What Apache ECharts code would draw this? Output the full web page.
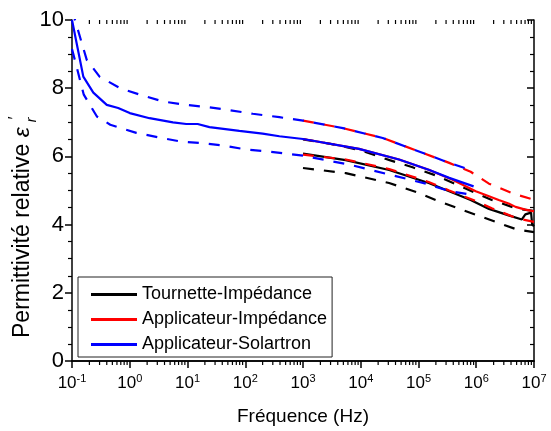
<!DOCTYPE html>
<html>
<head>
<meta charset="utf-8">
<script src="https://cdn.jsdelivr.net/npm/echarts@6/dist/echarts.min.js"></script>
<style>html,body{margin:0;padding:0;background:#fff}#c{width:551px;height:431px}</style>
</head>
<body>
<div id="c"></div>
<script>
// ---- Applicateur-Solartron (blue) ----
const solFreqMean = [0.1, 0.157, 0.234, 0.4, 0.63, 1, 2.2, 5.6, 9.5, 15, 24, 79, 200, 390, 1000, 9300, 46000, 150000, 340000, 900000];
const solMean     = [10.0, 8.34, 7.87, 7.51, 7.42, 7.27, 7.12, 7.0, 6.95, 6.95, 6.86, 6.75, 6.67, 6.59, 6.51, 6.22, 5.91, 5.61, 5.37, 5.12];
const solFreqUp   = [0.1, 0.18, 0.3, 0.68, 1.5, 3.8, 9.5, 21, 47, 135, 390, 1000, 4900, 24000, 120000, 340000, 800000];
const solUp       = [10.3, 8.83, 8.34, 8.0, 7.81, 7.61, 7.51, 7.45, 7.37, 7.25, 7.15, 7.05, 6.83, 6.54, 6.1, 5.81, 5.6];
const solFreqLow  = [0.1, 0.16, 0.27, 0.46, 1.3, 3.1, 7.4, 17, 41, 105, 230, 590, 1000, 6300, 31000, 150000, 340000, 800000];
const solLow      = [9.15, 7.81, 7.17, 6.93, 6.69, 6.56, 6.44, 6.39, 6.32, 6.2, 6.15, 6.07, 6.02, 5.76, 5.47, 5.18, 4.98, 4.88];

// ---- Applicateur-Impédance (red) ----
const appFreqMean = [1000, 9300, 46000, 150000, 380000, 980000, 1660000, 2450000, 3630000, 4790000, 7080000, 10000000];
const appMean     = [6.51, 6.22, 5.91, 5.61, 5.32, 4.98, 4.83, 4.72, 4.62, 4.52, 4.44, 4.39];
const appFreqUp   = [1000, 4900, 24000, 120000, 340000, 800000, 1660000, 2500000, 4500000, 10000000];
const appUp       = [7.05, 6.83, 6.54, 6.1, 5.81, 5.55, 5.2, 5.08, 4.9, 4.73];
const appFreqLow  = [1000, 5500, 31000, 150000, 340000, 890000, 1860000, 5000000, 10000000];
const appLow      = [6.05, 5.91, 5.63, 5.25, 5.0, 4.72, 4.48, 4.19, 4.08];

// ---- Tournette-Impédance (black) ----
const tourFreqMean = [1000, 5500, 31000, 150000, 340000, 800000, 1660000, 3630000, 6170000, 7080000, 8900000, 9300000, 10000000];
const tourMean     = [6.08, 5.89, 5.6, 5.22, 4.98, 4.72, 4.46, 4.27, 4.15, 4.3, 4.35, 4.0, 3.95];
const tourFreqUp   = [1000, 3160, 10000, 31600, 79000, 200000, 450000, 1000000, 1860000, 5000000, 10000000];
const tourUp       = [6.5, 6.36, 6.18, 5.89, 5.68, 5.44, 5.18, 4.92, 4.72, 4.47, 4.4];
const tourFreqLow  = [1000, 5500, 31000, 100000, 200000, 500000, 2240000, 5000000, 10000000];
const tourLow      = [5.66, 5.51, 5.22, 4.93, 4.72, 4.47, 4.07, 3.86, 3.78];

const legendNames = ['Tournette-Impédance', 'Applicateur-Impédance', 'Applicateur-Solartron'];
const yTicks = [0, 2, 4, 6, 8, 10];
const xDecades = [-1, 0, 1, 2, 3, 4, 5, 6, 7];
const minorMultipliers = [2, 3, 4, 5, 6, 7, 8, 9];

function pairs(f, v) { return f.map((x, i) => [x, v[i]]); }

// minor tick positions of the log axis (2..9 x 10^k)
const xMinorTicks = [];
for (let i = 0; i < xDecades.length - 1; i++) {
  for (const m of minorMultipliers) xMinorTicks.push([m * Math.pow(10, xDecades[i]), 0]);
}

const FONT = 'Liberation Sans, Arial, sans-serif';
const DASH = [11, 10];
const LW = 2.2;

function mk(name, f, v, color, dashed) {
  return {
    name: name, type: 'line', data: pairs(f, v), symbol: 'none', clip: true,
    lineStyle: { color: color, width: LW, type: dashed ? DASH : 'solid' },
    itemStyle: { color: color }, emphasis: { disabled: true }, silent: true,
    animation: false
  };
}

const chart = echarts.init(document.getElementById('c'), null, { renderer: 'canvas' });

const xLabelRich = {
  b: { fontSize: 17, fontFamily: FONT, color: '#000' },
  s: { fontSize: 11, fontFamily: FONT, color: '#000', verticalAlign: 'top', padding: [0, 0, 9, 0] }
};

chart.setOption({
  animation: false,
  grid: { left: 72, right: 17, top: 20, bottom: 69, containLabel: false },
  xAxis: [
    {
      type: 'log', logBase: 10, min: Math.pow(10, xDecades[0]), max: Math.pow(10, xDecades[xDecades.length - 1]),
      splitNumber: 8, position: 'bottom',
      axisLine: { lineStyle: { color: '#000', width: 1.5 } },
      axisTick: { inside: false, length: 7, lineStyle: { color: '#000', width: 1.5 } },
      minorTick: { show: false },
      splitLine: { show: false },
      axisLabel: {
        margin: 12, color: '#000',
        formatter: function (v) { const e = Math.round(Math.log10(v)); return '{b|10}{s|' + e + '}'; },
        rich: xLabelRich
      },
      name: 'Fréquence (Hz)', nameLocation: 'middle', nameGap: 46,
      nameTextStyle: { fontSize: 19, fontFamily: FONT, color: '#000' }
    },
    {
      type: 'log', logBase: 10, min: Math.pow(10, xDecades[0]), max: Math.pow(10, xDecades[xDecades.length - 1]),
      splitNumber: 8, position: 'top',
      axisLine: { show: true, lineStyle: { color: '#000', width: 1.5 } },
      axisTick: { inside: true, length: 7, lineStyle: { color: '#000', width: 1.5 } },
      minorTick: { show: false },
      splitLine: { show: false }, axisLabel: { show: false }
    }
  ],
  yAxis: [
    {
      type: 'value', min: yTicks[0], max: yTicks[yTicks.length - 1], interval: 2, position: 'left',
      axisLine: { show: true, lineStyle: { color: '#000', width: 1.5 } },
      axisTick: { show: true, inside: false, length: 7, lineStyle: { color: '#000', width: 1.5 } },
      minorTick: { show: true, splitNumber: 4, length: 4, lineStyle: { color: '#000', width: 1.2 } },
      splitLine: { show: false },
      axisLabel: { margin: 8, color: '#000', fontSize: 22, fontFamily: FONT }
    },
    {
      type: 'value', min: yTicks[0], max: yTicks[yTicks.length - 1], interval: 2, position: 'right',
      axisLine: { show: true, lineStyle: { color: '#000', width: 1.5 } },
      axisTick: { show: true, inside: true, length: 7, lineStyle: { color: '#000', width: 1.5 } },
      minorTick: { show: true, splitNumber: 4, length: 4, lineStyle: { color: '#000', width: 1.2 } },
      splitLine: { show: false }, axisLabel: { show: false }
    }
  ],
  legend: {
    data: legendNames, orient: 'vertical', left: 78, top: 277,
    padding: [8, 5, 3, 13], itemGap: 6, itemWidth: 46, itemHeight: 3, icon: 'rect',
    borderColor: '#222', borderWidth: 1, backgroundColor: '#fff',
    textStyle: { fontSize: 18, fontFamily: FONT, color: '#000', lineHeight: 19 },
    selectedMode: false
  },
  graphic: [
    {
      type: 'text', x: 23, y: 338, rotation: Math.PI / 2,
      style: {
        text: 'Permittivité relative {e|ε}',
        fontSize: 23, fontFamily: FONT, fill: '#000', align: 'left', verticalAlign: 'middle',
        rich: {
          e: { fontSize: 23, fontStyle: 'italic', fontFamily: FONT, fill: '#000' }
        }
      }
    },
    {
      type: 'text', x: 16, y: 118, rotation: Math.PI / 2,
      style: { text: '′', fontSize: 16, fontFamily: FONT, fill: '#000', align: 'center', verticalAlign: 'middle' }
    },
    {
      type: 'text', x: 32, y: 120, rotation: Math.PI / 2,
      style: { text: 'r', fontSize: 14, fontStyle: 'italic', fontFamily: FONT, fill: '#000', align: 'center', verticalAlign: 'middle' }
    }
  ],
  series: [
    {
      name: 'minor-ticks', type: 'custom', xAxisIndex: 0, yAxisIndex: 0, clip: false, silent: true,
      data: xMinorTicks,
      renderItem: function (params, api) {
        const v = api.value(0);
        const pb = api.coord([v, yTicks[0]]);
        const pt = api.coord([v, yTicks[yTicks.length - 1]]);
        return {
          type: 'group', children: [
            { type: 'line', shape: { x1: pb[0], y1: pb[1], x2: pb[0], y2: pb[1] + 4 }, style: { stroke: '#000', lineWidth: 1.2 } },
            { type: 'line', shape: { x1: pt[0], y1: pt[1], x2: pt[0], y2: pt[1] + 4 }, style: { stroke: '#000', lineWidth: 1.2 } }
          ]
        };
      }
    },
    mk('Tournette-Impédance', tourFreqMean, tourMean, '#000000', false),
    mk('tour-up', tourFreqUp, tourUp, '#000000', true),
    mk('tour-low', tourFreqLow, tourLow, '#000000', true),
    mk('Applicateur-Impédance', appFreqMean, appMean, '#ff0000', false),
    mk('app-up', appFreqUp, appUp, '#ff0000', true),
    mk('app-low', appFreqLow, appLow, '#ff0000', true),
    mk('Applicateur-Solartron', solFreqMean, solMean, '#0000ff', false),
    mk('sol-up', solFreqUp, solUp, '#0000ff', true),
    mk('sol-low', solFreqLow, solLow, '#0000ff', true)
  ]
});
</script>
</body>
</html>
